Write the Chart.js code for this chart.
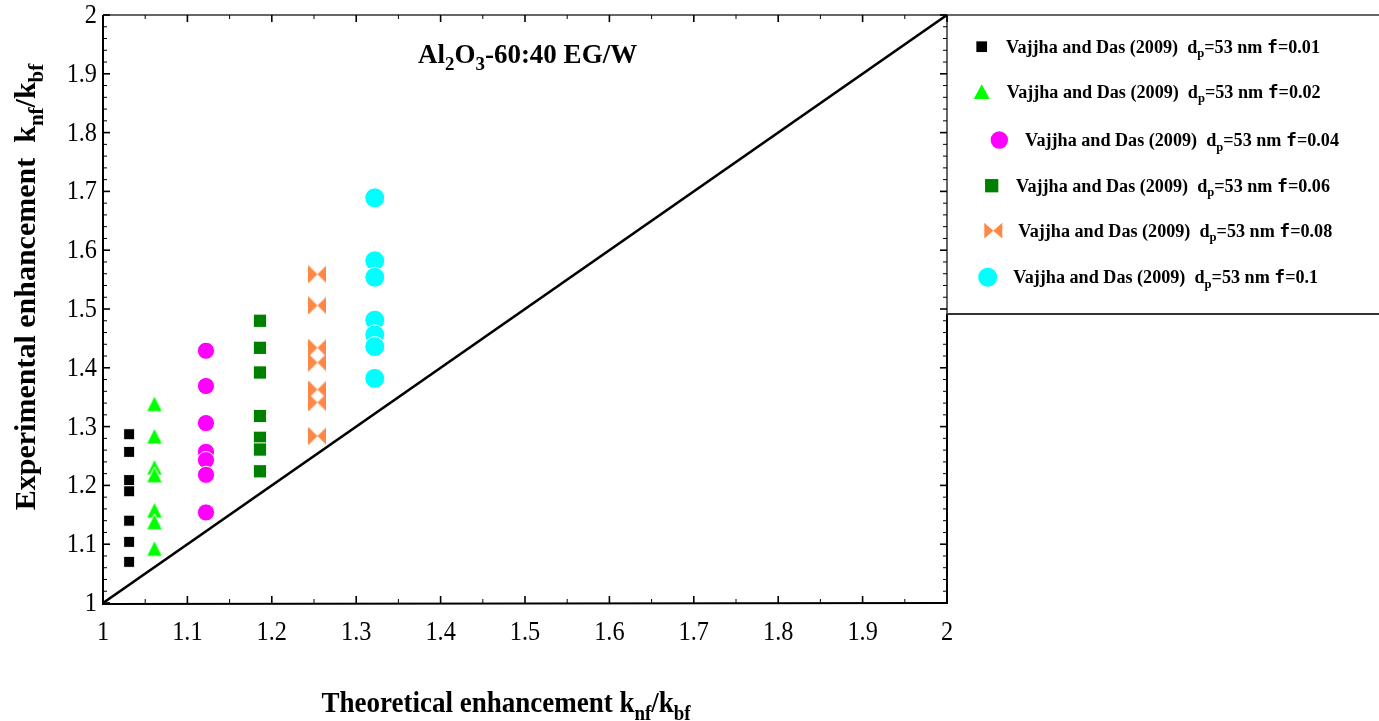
<!DOCTYPE html>
<html><head><meta charset="utf-8">
<script src="https://cdn.jsdelivr.net/npm/chart.js@4.4.1/dist/chart.umd.min.js"></script>
<style>html,body{margin:0;padding:0;background:#fff;overflow:hidden}#wrap{width:1379px;height:721px;position:relative}</style>
</head><body><div id="wrap"><canvas id="c" width="1379" height="721"></canvas></div>
<script>
// ---------- data ----------
const seriesFractions = ['0.01', '0.02', '0.04', '0.06', '0.08', '0.1'];
const theoretical = [1.031, 1.061, 1.122, 1.186, 1.254, 1.322];
const expF001 = [1.287, 1.257, 1.209, 1.190, 1.140, 1.104, 1.070];
const expF002 = [1.339, 1.284, 1.231, 1.218, 1.158, 1.138, 1.093];
const expF004 = [1.429, 1.369, 1.306, 1.257, 1.243, 1.218, 1.154];
const expF006 = [1.480, 1.434, 1.392, 1.318, 1.281, 1.261, 1.224];
const expF008 = [1.559, 1.506, 1.434, 1.409, 1.363, 1.341, 1.284];
const expF010 = [1.689, 1.582, 1.554, 1.481, 1.456, 1.436, 1.382];
const diagonalX = [1, 2];
const diagonalY = [1, 2];
const xTickLabels = ['1', '1.1', '1.2', '1.3', '1.4', '1.5', '1.6', '1.7', '1.8', '1.9', '2'];
const yTickLabels = ['1', '1.1', '1.2', '1.3', '1.4', '1.5', '1.6', '1.7', '1.8', '1.9', '2'];

const expSeries = [expF001, expF002, expF004, expF006, expF008, expF010];
const SERIF = '"Liberation Serif","Times New Roman",serif';
const MONO = '"DejaVu Sans Mono",monospace';

// custom markers
function makeBowtie(w, h, color) {
  const cv = document.createElement('canvas');
  cv.width = w; cv.height = h;
  const g = cv.getContext('2d');
  g.fillStyle = color;
  g.beginPath(); g.moveTo(0, 0); g.lineTo(0, h); g.lineTo(w / 2, h / 2); g.closePath(); g.fill();
  g.beginPath(); g.moveTo(w, 0); g.lineTo(w, h); g.lineTo(w / 2, h / 2); g.closePath(); g.fill();
  return cv;
}
function makeTriangle(w, h, color) {
  const cv = document.createElement('canvas');
  cv.width = w + 2; cv.height = h + 2;
  const g = cv.getContext('2d');
  g.fillStyle = color;
  g.strokeStyle = '#ffffff';
  g.lineWidth = 1;
  g.beginPath(); g.moveTo(1 + w / 2, 1); g.lineTo(1 + w, 1 + h); g.lineTo(1, 1 + h); g.closePath();
  g.fill(); g.stroke();
  return cv;
}
const bowPlot = makeBowtie(18, 18, '#FF8745');
const triPlot = makeTriangle(16, 16, '#00FF00');

const styles = [
  {color: '#000000', pointStyle: 'rect', radius: 7.8},
  {color: '#00FF00', pointStyle: triPlot, radius: 9},
  {color: '#FF00FF', pointStyle: 'circle', radius: 8.6},
  {color: '#008000', pointStyle: 'rect', radius: 9.4},
  {color: '#FF8745', pointStyle: bowPlot, radius: 9},
  {color: '#00FFFF', pointStyle: 'circle', radius: 10}
];

const datasets = [{
  type: 'line',
  label: 'y=x',
  data: diagonalX.map((x, i) => ({x: x, y: diagonalY[i]})),
  borderColor: '#000', borderWidth: 2.6, pointRadius: 0, fill: false, order: 10
}];
expSeries.forEach((arr, i) => {
  datasets.push({
    type: 'scatter',
    label: 'Vajjha and Das (2009) dp=53 nm f=' + seriesFractions[i],
    data: arr.map(v => ({x: theoretical[i], y: v})),
    backgroundColor: styles[i].color,
    borderColor: '#ffffff',
    borderWidth: typeof styles[i].pointStyle === 'string' ? 1 : 0,
    pointStyle: styles[i].pointStyle,
    pointRadius: styles[i].radius,
    pointHoverRadius: styles[i].radius,
    order: 1
  });
});

// ---------- rich text helpers ----------
function partFont(p, size) {
  const s = p.sub ? size * 0.7 : size;
  return 'bold ' + s.toFixed(1) + 'px ' + (p.fam || SERIF);
}
function richWidth(ctx, parts, size) {
  let w = 0;
  parts.forEach(p => { ctx.font = partFont(p, size); w += ctx.measureText(p.t).width; });
  return w;
}
function drawRich(ctx, parts, x, y, size, align, sx) {
  ctx.save();
  ctx.translate(x, y);
  ctx.scale(sx, 1);
  const w = richWidth(ctx, parts, size);
  let cx = align === 'center' ? -w / 2 : (align === 'right' ? -w : 0);
  ctx.textAlign = 'left';
  ctx.textBaseline = 'alphabetic';
  parts.forEach(p => {
    ctx.font = partFont(p, size);
    ctx.fillText(p.t, cx, p.sub ? size * 0.25 : 0);
    cx += ctx.measureText(p.t).width;
  });
  ctx.restore();
}
function drawPlain(ctx, text, x, y, size, align, sx) {
  ctx.save();
  ctx.translate(x, y);
  ctx.scale(sx, 1);
  ctx.font = size + 'px ' + SERIF;
  ctx.textAlign = align;
  ctx.textBaseline = 'middle';
  ctx.fillText(text, 0, 0);
  ctx.restore();
}
function drawMarker(ctx, kind, x, y, color) {
  ctx.save();
  ctx.fillStyle = color;
  ctx.beginPath();
  if (kind.type === 'rect') {
    ctx.rect(x - kind.s / 2, y - kind.s / 2, kind.s, kind.s);
  } else if (kind.type === 'tri') {
    ctx.moveTo(x, y - kind.h / 2); ctx.lineTo(x + kind.w / 2, y + kind.h / 2); ctx.lineTo(x - kind.w / 2, y + kind.h / 2); ctx.closePath();
  } else if (kind.type === 'circle') {
    ctx.arc(x, y, kind.r, 0, Math.PI * 2);
  } else if (kind.type === 'bow') {
    const w = kind.w, h = kind.h;
    ctx.moveTo(x - w / 2, y - h / 2); ctx.lineTo(x - w / 2, y + h / 2); ctx.lineTo(x, y); ctx.closePath();
    ctx.moveTo(x + w / 2, y - h / 2); ctx.lineTo(x + w / 2, y + h / 2); ctx.lineTo(x, y); ctx.closePath();
  }
  ctx.fill();
  ctx.restore();
}

const legendLayout = [
  {mx: 981.7, my: 46.7, tx: 1006, kind: {type: 'rect', s: 10.7}},
  {mx: 981.7, my: 91.7, tx: 1006.7, kind: {type: 'tri', w: 16, h: 14.7}},
  {mx: 999.3, my: 140, tx: 1025, kind: {type: 'circle', r: 8.7}},
  {mx: 991.7, my: 185.7, tx: 1016, kind: {type: 'rect', s: 13.3}},
  {mx: 993.3, my: 230.7, tx: 1018.3, kind: {type: 'bow', w: 18, h: 15.7}},
  {mx: 987.7, my: 277.3, tx: 1013.3, kind: {type: 'circle', r: 9.5}}
];

const decor = {
  id: 'decor',
  afterDraw(chart) {
    const ctx = chart.ctx;
    const xs = chart.scales.x, ys = chart.scales.y;
    const L = xs.getPixelForValue(1), R = xs.getPixelForValue(2);
    const T = ys.getPixelForValue(2), B = ys.getPixelForValue(1);
    ctx.save();
    ctx.strokeStyle = '#000';
    ctx.lineCap = 'butt';
    // frame
    ctx.lineWidth = 2;
    ctx.beginPath(); ctx.moveTo(L, T); ctx.lineTo(L, B + 1); ctx.lineTo(R + 1, B); ctx.stroke();
    ctx.beginPath(); ctx.moveTo(R, B); ctx.lineTo(R, 314); ctx.stroke();
    ctx.lineWidth = 1.5;
    ctx.strokeStyle = '#333';
    ctx.beginPath(); ctx.moveTo(R, 314); ctx.lineTo(R, T); ctx.stroke();
    ctx.beginPath(); ctx.moveTo(L, T); ctx.lineTo(1379, T); ctx.stroke();
    ctx.lineWidth = 2;
    ctx.beginPath(); ctx.moveTo(R, 314); ctx.lineTo(1379, 314); ctx.stroke();
    // ticks
    ctx.strokeStyle = '#000';
    for (let i = 0; i <= 50; i++) {
      const v = 1 + i * 0.02;
      const py = ys.getPixelForValue(v);
      const major = i % 5 === 0;
      const len = major ? 7 : 4;
      ctx.lineWidth = major ? 1.6 : 1;
      ctx.beginPath(); ctx.moveTo(L, py); ctx.lineTo(L + len, py); ctx.stroke();
      ctx.beginPath(); ctx.moveTo(R, py); ctx.lineTo(R - len, py); ctx.stroke();
    }
    for (let i = 0; i <= 20; i++) {
      const v = 1 + i * 0.05;
      const px = xs.getPixelForValue(v);
      const major = i % 2 === 0;
      const len = major ? 7 : 4;
      ctx.lineWidth = major ? 1.6 : 1;
      ctx.beginPath(); ctx.moveTo(px, B); ctx.lineTo(px, B - len); ctx.stroke();
      ctx.beginPath(); ctx.moveTo(px, T); ctx.lineTo(px, T + len); ctx.stroke();
    }
    // tick labels
    ctx.fillStyle = '#000';
    xTickLabels.forEach((t, i) => drawPlain(ctx, t, xs.getPixelForValue(1 + i * 0.1), 633, 27, 'center', 0.9));
    yTickLabels.forEach((t, i) => drawPlain(ctx, t, 97, ys.getPixelForValue(1 + i * 0.1) + 1, 27, 'right', 0.9));
    // inner title
    drawRich(ctx, [{t: 'Al'}, {t: '2', sub: true}, {t: 'O'}, {t: '3', sub: true}, {t: '-60:40 EG/W'}], 418, 63, 27, 'left', 1);
    // axis titles
    drawRich(ctx, [{t: 'Theoretical enhancement k'}, {t: 'nf', sub: true}, {t: '/k'}, {t: 'bf', sub: true}], 506, 712, 30, 'center', 0.9);
    ctx.save();
    ctx.translate(35, 287);
    ctx.rotate(-Math.PI / 2);
    drawRich(ctx, [{t: 'Experimental enhancement  k'}, {t: 'nf', sub: true}, {t: '/k'}, {t: 'bf', sub: true}], 0, 0, 30, 'center', 1);
    ctx.restore();
    // legend
    legendLayout.forEach((e, i) => {
      drawMarker(ctx, e.kind, e.mx, e.my, styles[i].color);
      ctx.fillStyle = '#000';
      drawRich(ctx, [
        {t: 'Vajjha and Das (2009)  d'}, {t: 'p', sub: true}, {t: '=53 nm '},
        {t: 'f', fam: MONO}, {t: '=' + seriesFractions[i]}
      ], e.tx, e.my + 6, 18.5, 'left', 0.98);
    });
    ctx.restore();
  }
};

new Chart(document.getElementById('c'), {
  type: 'scatter',
  data: {datasets: datasets},
  options: {
    responsive: false,
    animation: false,
    devicePixelRatio: 1,
    layout: {padding: {left: 103, top: 15, right: 432, bottom: 118}},
    plugins: {legend: {display: false}, tooltip: {enabled: false}, title: {display: false}},
    scales: {
      x: {type: 'linear', min: 1, max: 2, display: false},
      y: {type: 'linear', min: 1, max: 2, display: false}
    }
  },
  plugins: [decor]
});
</script>
</body></html>
